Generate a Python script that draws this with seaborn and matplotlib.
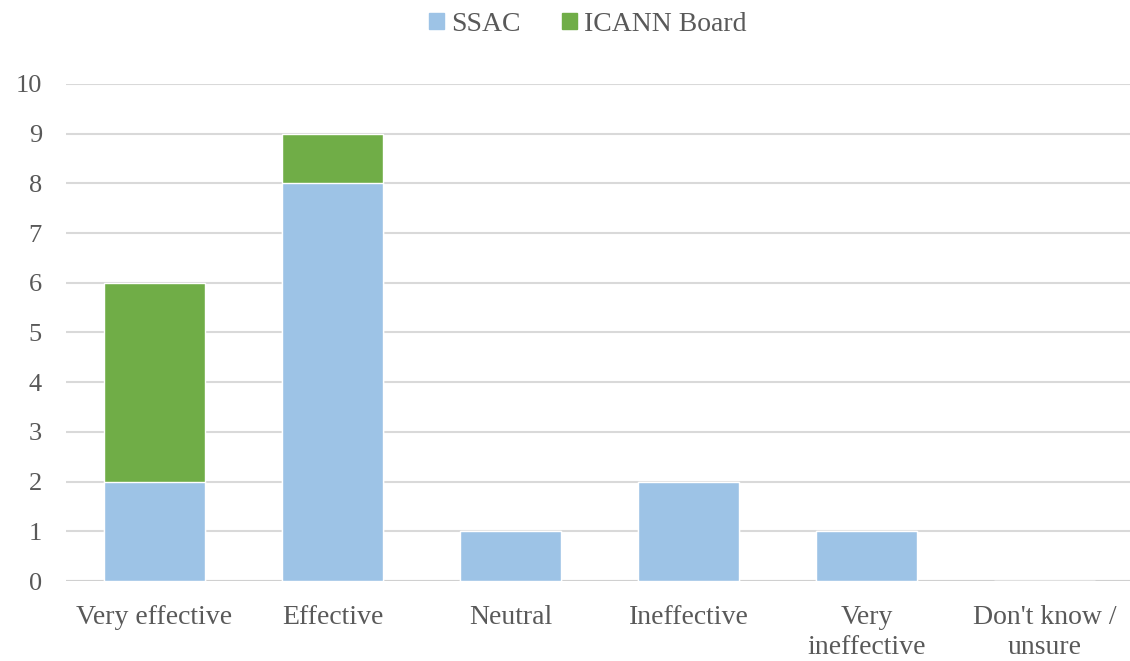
import matplotlib.pyplot as plt
import matplotlib.patches as mpatches
import seaborn as sns
import pandas as pd

categories = ['Very effective', 'Effective', 'Neutral', 'Ineffective',
              'Very\nineffective', "Don't know /\nunsure"]
ssac = [2, 8, 1, 2, 1, 0]
board = [4, 1, 0, 0, 0, 0]

sns.set_style("white")
plt.rcParams['font.family'] = ['Liberation Serif', 'DejaVu Serif']

blue = '#9DC3E6'
green = '#70AD47'
grey = '#595959'

df = pd.DataFrame({'cat': categories, 'SSAC': ssac, 'Board': board})
df['total'] = df['SSAC'] + df['Board']

fig = plt.figure(figsize=(11.3, 6.61), dpi=100)
ax = fig.add_axes([0.058, 0.121, 0.945, 0.752])

sns.barplot(data=df, x='cat', y='total', color=green, saturation=1,
            width=0.57, ax=ax, zorder=3)
sns.barplot(data=df, x='cat', y='SSAC', color=blue, saturation=1,
            width=0.57, ax=ax, zorder=3)

ax.set_ylim(0, 10)
ax.set_yticks(range(0, 11))
ax.set_xlim(-0.5, 5.5)
ax.yaxis.grid(True, color='#d9d9d9', linewidth=1.5, zorder=0)
ax.set_axisbelow(True)
for s in ax.spines.values():
    s.set_visible(False)
ax.axhline(0, color='#d0d0d0', linewidth=1.5, zorder=2)
ax.set_xlabel('')
ax.set_ylabel('')
ax.tick_params(axis='y', length=0, labelsize=19, colors=grey, pad=17)
ax.tick_params(axis='x', length=0, labelsize=20, colors=grey, pad=17)
for t in ax.get_xticklabels():
    t.set_linespacing(1.3)

handles = [mpatches.Patch(color=blue, label='SSAC'),
           mpatches.Patch(color=green, label='ICANN Board')]
fig.legend(handles=handles, loc='upper center', bbox_to_anchor=(0.52, 1.02),
           ncol=2, frameon=False, fontsize=20, handlelength=0.55,
           handleheight=0.55, handletextpad=0.25, columnspacing=1.5,
           labelcolor=grey)

fig.savefig('out.png', dpi=100)
